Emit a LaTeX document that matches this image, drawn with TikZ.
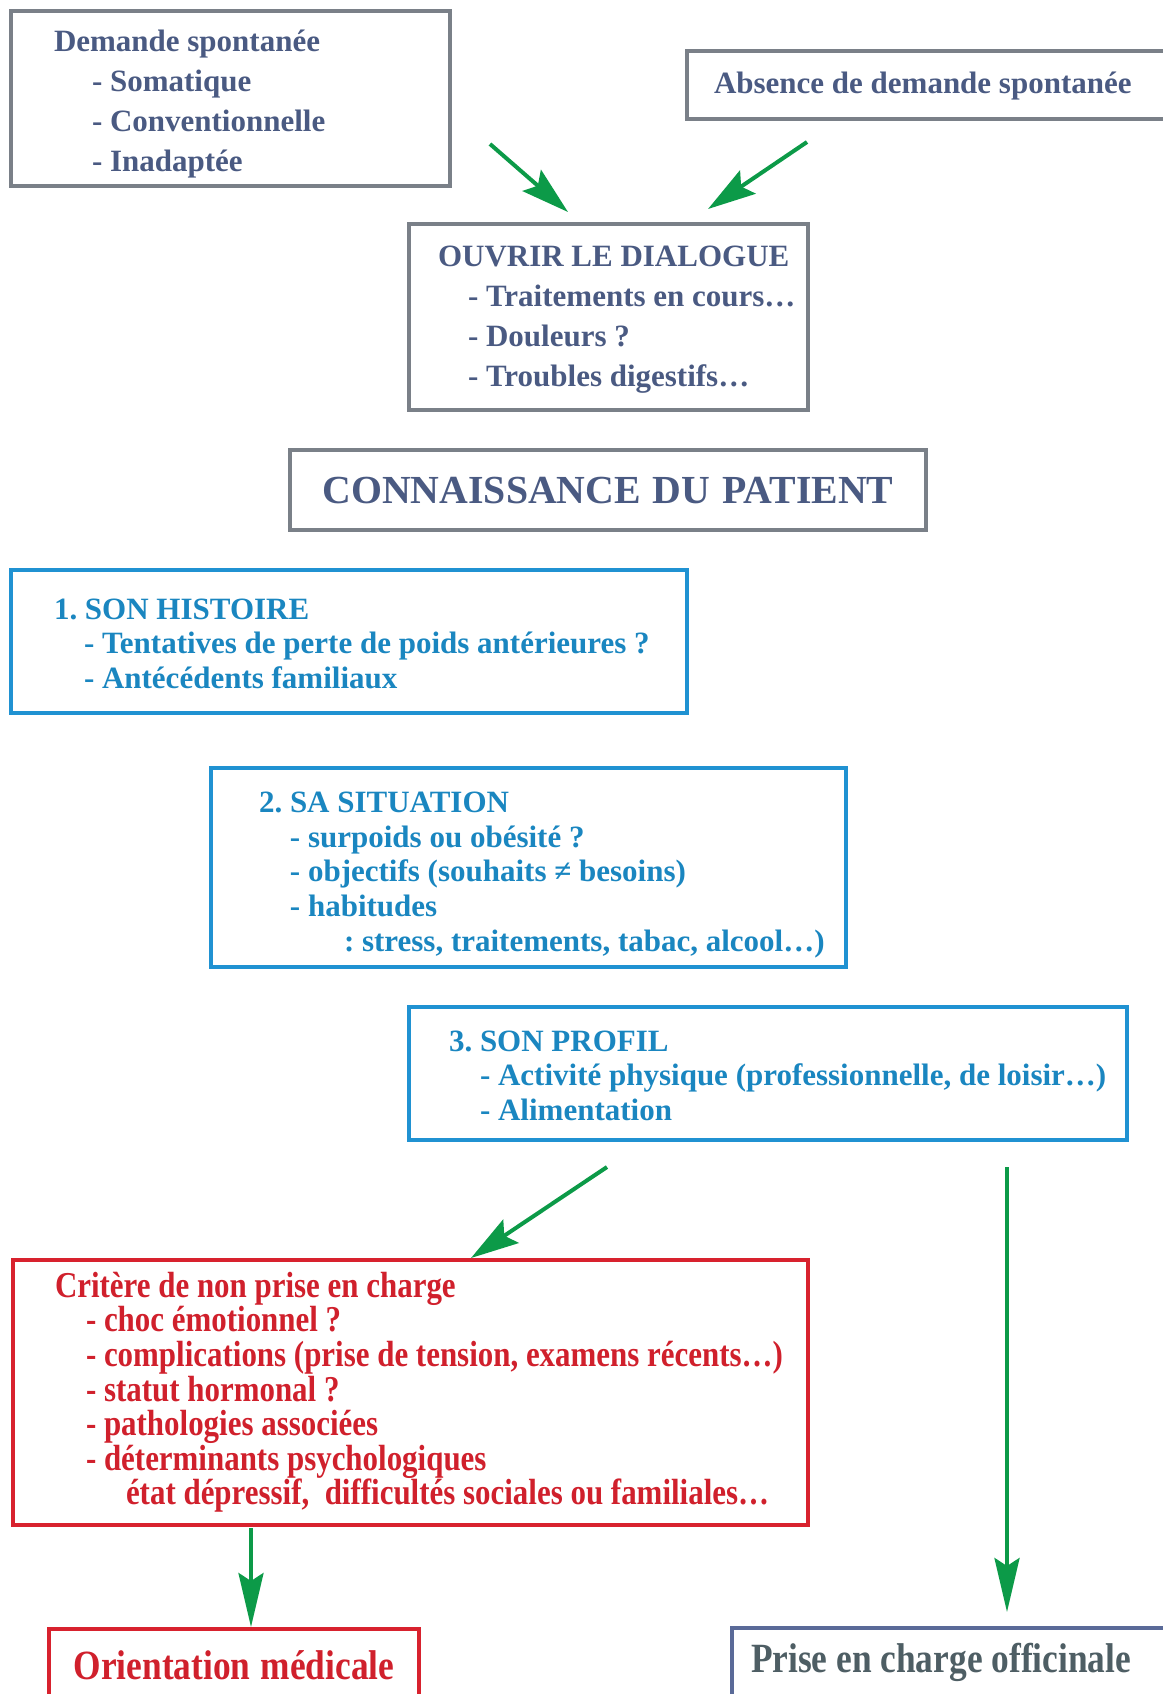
\documentclass[tikz,border=0pt]{standalone}
\usepackage{fontspec}
\setmainfont{Liberation Serif}
\newfontfamily\condserif{Liberation Serif}[FakeStretch=0.85]
\usetikzlibrary{calc,arrows.meta}

\definecolor{txtgrey}{HTML}{4A5A82}
\definecolor{boxgrey}{HTML}{7A8088}
\definecolor{txtblue}{HTML}{1A86C0}
\definecolor{boxblue}{HTML}{2092D2}
\definecolor{txtred}{HTML}{D0202C}
\definecolor{boxred}{HTML}{D8222E}
\definecolor{arrgreen}{HTML}{0C9A48}
\definecolor{boxslate}{HTML}{5A6A98}
\definecolor{txtslate}{HTML}{4E5E64}

\newcommand{\ind}[1]{\hspace*{#1}}

\begin{document}
\begin{tikzpicture}[inner sep=0pt,outer sep=0pt,
    every node/.style={anchor=north west, align=left, line width=2pt},
    lpad/.style={execute at begin node={\leftskip=#1\relax\spaceskip=0pt\xspaceskip=0pt\frenchspacing}},
    mid/.style={align=center, execute at begin node={\spaceskip=0pt\xspaceskip=0pt}},
    greybox/.style={draw=boxgrey, text=txtgrey, font=\bfseries\fontsize{15.5}{20}\selectfont},
    bluebox/.style={draw=boxblue, text=txtblue, font=\bfseries\fontsize{15.5}{17.3}\selectfont},
    redbox/.style={draw=boxred, text=txtred, font=\condserif\bfseries\fontsize{18.2}{17.3}\selectfont},
    flow/.style={color=arrgreen, line width=2pt, -{Stealth[length=24pt,width=14pt,inset=4pt]}},
    vflow/.style={color=arrgreen, line width=2pt, -{Stealth[length=27pt,width=12.5pt,inset=4pt]}}]

    \useasboundingbox (0,0) rectangle (581.5pt,-847pt);
    \clip (0,0) rectangle (581.5pt,-847pt);

    % demande
    \node[greybox, lpad=21.5pt, text width=219.5pt, minimum height=87.5pt, text depth=58pt] (demande) at (5.5pt,-5.5pt)
    {Demande spontanée\\
    \ind{19pt}- Somatique\\
    \ind{19pt}- Conventionnelle\\
    \ind{19pt}- Inadaptée};

    % absence
    \node[greybox, lpad=13.5pt, text width=300pt, minimum height=34pt, text depth=2.3pt] (absence) at (343.5pt,-25.5pt)
    {Absence de demande spontanée};

    % dialogue
    \node[greybox, lpad=14.5pt, text width=199.5pt, minimum height=93pt, text depth=61.2pt] (ouvrir) at (204.5pt,-112pt)
    {OUVRIR LE DIALOGUE\\
    \ind{15pt}- Traitements en cours…\\
    \ind{15pt}- Douleurs ?\\
    \ind{15pt}- Troubles digestifs…};

    % connaissance
    \node[greybox, mid, text width=318pt, minimum height=40pt, text depth=-3.2pt,
      font=\bfseries\fontsize{19.9}{24}\selectfont] (patient) at (145pt,-225pt)
    {CONNAISSANCE DU PATIENT};

    % histoire
    \node[bluebox, lpad=21.5pt, text width=338pt, minimum height=71.5pt, text depth=32.4pt] (histoire) at (5.5pt,-285pt)
    {1. SON HISTOIRE\\
    \ind{15pt}- Tentatives de perte de poids antérieures ?\\
    \ind{15pt}- Antécédents familiaux};

    % situation
    \node[bluebox, lpad=24pt, text width=317.5pt, minimum height=99.5pt, text depth=65pt] (situation) at (105.5pt,-384pt)
    {2. SA SITUATION\\
    \ind{15.5pt}- surpoids ou obésité ?\\
    \ind{15.5pt}- objectifs (souhaits ≠ besoins)\\
    \ind{15.5pt}- habitudes\\
    \ind{42.5pt}: stress, traitements, tabac, alcool…)};

    % profil
    \node[bluebox, lpad=20pt, text width=359pt, minimum height=66.5pt, text depth=32.4pt] (profil) at (204.5pt,-503.5pt)
    {3. SON PROFIL\\
    \ind{15.5pt}- Activité physique (professionnelle, de loisir…)\\
    \ind{15.5pt}- Alimentation};

    % critere
    \node[redbox, lpad=21pt, text width=397.5pt, minimum height=132.5pt, text depth=107.8pt] (critere) at (6.5pt,-630pt)
    {Critère de non prise en charge\\
    \ind{15.5pt}- choc émotionnel ?\\
    \ind{15.5pt}- complications (prise de tension, examens récents…)\\
    \ind{15.5pt}- statut hormonal ?\\
    \ind{15.5pt}- pathologies associées\\
    \ind{15.5pt}- déterminants psychologiques\\
    \ind{35.5pt}état dépressif,\ \ difficultés sociales ou familiales…};

    % orientation
    \node[redbox, mid, text width=185pt, minimum height=38pt, text depth=2.2pt,
      font=\condserif\bfseries\fontsize{20.8}{24}\selectfont] (orient) at (24.5pt,-814.5pt)
    {Orientation médicale};

    % officinale
    \node[draw=boxslate, text=txtslate, lpad=9.5pt, text width=250pt, minimum height=38pt, text depth=7.8pt,
      font=\condserif\bfseries\fontsize{20.8}{24}\selectfont] (officine) at (366pt,-814pt)
    {Prise en charge officinale};

    % arrows
    \coordinate (dem_out) at (245pt,-72pt);
    \coordinate (abs_out) at (403.5pt,-71pt);
    \coordinate (prof_left) at (303.5pt,-583.5pt);
    \coordinate (prof_right) at (503.5pt,-583.5pt);
    \coordinate (crit_out) at (125.5pt,-764pt);

    \draw[flow] (dem_out) -- ([xshift=79.5pt,yshift=6pt]ouvrir.north west);
    \draw[flow] (abs_out) -- ([xshift=149.5pt,yshift=7.5pt]ouvrir.north west);
    \draw[flow] (prof_left) -- ([xshift=229pt,yshift=1pt]critere.north west);
    \draw[vflow] (prof_right) -- ([xshift=137.5pt,yshift=8pt]officine.north west);
    \draw[vflow] (crit_out) -- ([xshift=101pt,yshift=1pt]orient.north west);

\end{tikzpicture}
\end{document}
